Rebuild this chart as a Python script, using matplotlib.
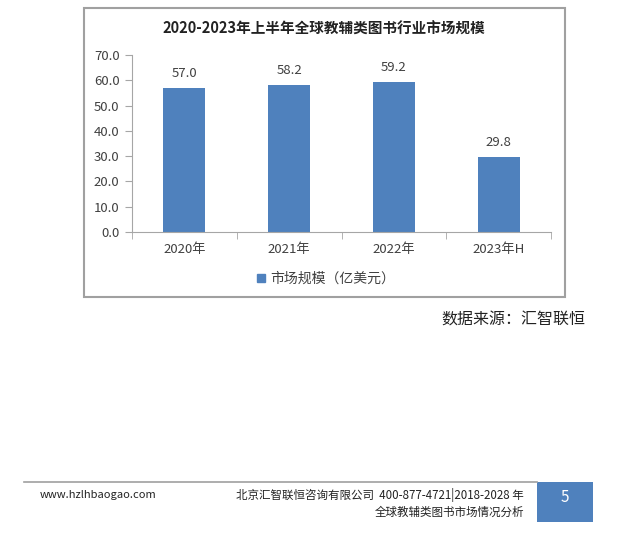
import matplotlib.pyplot as plt
from matplotlib.patches import Rectangle
from matplotlib.lines import Line2D
import numpy as np

plt.rcParams['font.family'] = ['Noto Sans CJK SC', 'DejaVu Sans']

years = ['2020年', '2021年', '2022年', '2023年H']
market = [57.0, 58.2, 59.2, 29.8]
yticks = [0, 10, 20, 30, 40, 50, 60, 70]

W, H = 632, 549
fig = plt.figure(figsize=(W / 100, H / 100), dpi=100)

bar_color = '#4F81BD'
axis_gray = '#A6A6A6'
text_gray = '#404040'

# chart frame
fig.patches.append(Rectangle((84 / W, 1 - 297 / H), (565 - 84) / W, (297 - 8) / H,
                             transform=fig.transFigure, fill=False,
                             edgecolor='#A0A0A0', linewidth=1.5))

ax = fig.add_axes([132 / W, 1 - 232 / H, 419 / W, 177 / H])
x = np.arange(len(years))
ax.bar(x, market, width=0.4, color=bar_color, zorder=2)
for xi, v in zip(x, market):
    ax.text(xi, v + 3.2, f'{v:.1f}', ha='center', va='bottom', fontsize=9.5, color=text_gray)

ax.set_xlim(-0.5, len(years) - 0.5)
ax.set_ylim(0, 70)
ax.set_yticks(yticks)
ax.set_yticklabels([f'{t:.1f}' for t in yticks], fontsize=9.5, color=text_gray)
ax.set_xticks(x)
ax.set_xticklabels(years, fontsize=9.5, color=text_gray)
ax.set_xticks(np.arange(-0.5, len(years)), minor=True)
ax.tick_params(axis='x', which='major', length=0, pad=8)
ax.tick_params(axis='x', which='minor', length=5, color=axis_gray, direction='out')
ax.tick_params(axis='y', length=5, color=axis_gray, pad=4)
for s in ['top', 'right']:
    ax.spines[s].set_visible(False)
for s in ['left', 'bottom']:
    ax.spines[s].set_color(axis_gray)

handle = Line2D([], [], marker='s', linestyle='none', color=bar_color, markersize=6)
fig.legend([handle], ['市场规模（亿美元）'], loc='center', bbox_to_anchor=(326 / W, 1 - 279 / H),
           frameon=False, fontsize=10, handlelength=0.6, handletextpad=0.3, labelcolor=text_gray)

fig.text(324 / W, 1 - 29 / H, '2020-2023年上半年全球教辅类图书行业市场规模', ha='center', va='center',
         fontsize=10.5, fontweight='bold', color='#222222')

fig.text(585 / W, 1 - 320 / H, '数据来源：汇智联恒', ha='right', va='center', fontsize=11.5, color='#222222')

# footer
fig.add_artist(Line2D([24 / W, 537 / W], [1 - 482 / H, 1 - 482 / H], transform=fig.transFigure,
                      color='#A0A0A0', linewidth=1.2))
fig.patches.append(Rectangle((537 / W, 1 - 522 / H), 56 / W, 40 / H, transform=fig.transFigure,
                             facecolor=bar_color, edgecolor='none'))
fig.text(565 / W, 1 - 498 / H, '5', ha='center', va='center', fontsize=11, color='white')
fig.text(40 / W, 1 - 495 / H, 'www.hzlhbaogao.com', ha='left', va='center', fontsize=8, color='#222222')
fig.text(524 / W, 1 - 495 / H, '北京汇智联恒咨询有限公司  400-877-4721|2018-2028 年', ha='right', va='center',
         fontsize=8.3, color='#222222')
fig.text(524 / W, 1 - 512 / H, '全球教辅类图书市场情况分析', ha='right', va='center',
         fontsize=8.3, color='#222222')

fig.savefig('out.png', dpi=100)
